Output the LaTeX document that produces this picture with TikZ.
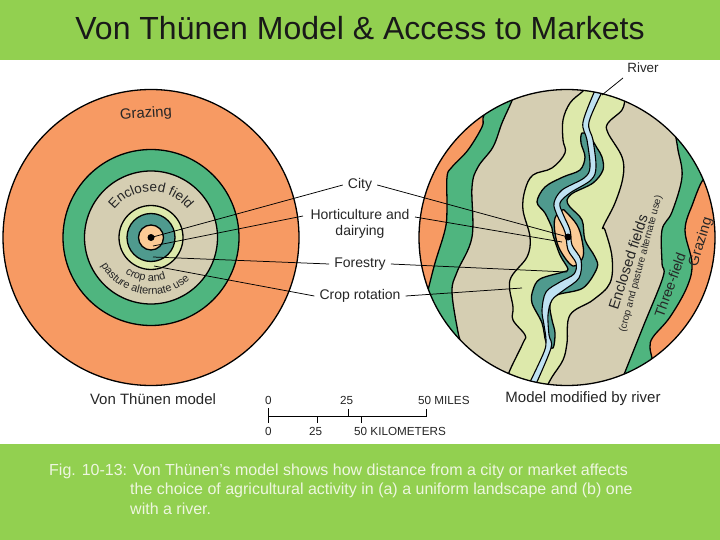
\documentclass[tikz,border=0pt]{standalone}
\usepackage{fontspec}
\setmainfont{Liberation Sans}
\usetikzlibrary{decorations.text}
\definecolor{bandgreen}{HTML}{92D050}
\definecolor{captext}{HTML}{EEF6E0}
\definecolor{zorange}{HTML}{F79A63}
\definecolor{zgreen}{HTML}{4FB57F}
\definecolor{zbeige}{HTML}{D5CEB2}
\definecolor{zlight}{HTML}{DDE9AB}
\definecolor{zteal}{HTML}{4F9A8E}
\definecolor{zpeach}{HTML}{FBCB96}
\definecolor{zriver}{HTML}{BFE2F2}
\newcommand{\fs}[1]{\fontsize{#1}{#1}\selectfont}
\tikzset{
  zone/.style={draw=black,line width=1.3pt,line join=round},
  leader/.style={draw=black,line width=0.75pt},
  lab/.style={font=\fs{14},text=black!85,inner ysep=0pt,inner xsep=5pt,align=center},
  scalebar/.style={draw=black,line width=0.9pt},
  tiny/.style={font=\fs{11.7},text=black!85,inner sep=0pt,anchor=west},
  maptext/.style={inner sep=0pt,text=black!85},
}
\begin{document}
\begin{tikzpicture}[x=1pt,y=-1pt]
\useasboundingbox (0,0) rectangle (720,540);
\fill[white] (0,0) rectangle (720,540);
\fill[bandgreen] (0,0) rectangle (720,60);
\fill[bandgreen] (0,444) rectangle (720,540);
\node[inner sep=0pt,font=\fs{32},text=black!90] (title) at (360,28) {Von Thünen Model \& Access to Markets};
\node[inner sep=0pt,anchor=base west,font=\fs{16},text=captext] (cap1) at (49,475) {Fig. 10-13: Von Thünen’s model shows how distance from a city or market affects};
\node[inner sep=0pt,anchor=base west,font=\fs{16},text=captext] (cap2) at (130,494) {the choice of agricultural activity in (a) a uniform landscape and (b) one};
\node[inner sep=0pt,anchor=base west,font=\fs{16},text=captext] (cap3) at (130,514) {with a river.};

% left circle
\filldraw[zone,fill=zorange] (151,237.5) circle[radius=148];
\filldraw[zone,fill=zgreen] (151,237.5) circle[radius=88];
\filldraw[zone,fill=zbeige] (151,237.5) circle[radius=66.5];
\filldraw[zone,fill=zlight] (151,237.5) circle[radius=32];
\filldraw[zone,fill=zteal] (151,237.5) circle[radius=24];
\filldraw[zone,fill=zpeach] (151,237.5) circle[radius=12.5];
\fill[black] (151,237.5) circle[radius=3.5];

\begin{scope}[x=1pt,y=1pt,shift={(151pt,-237.5pt)}]
\path[postaction={decorate,decoration={text along path,text align=center,
  text={|\fs{13.6}\color{black!85}|Enclosed field}}}] (155:46) arc[start angle=155,end angle=25,radius=46];
\path[postaction={decorate,decoration={text along path,text align=center,
  text={|\fs{11}\color{black!85}|crop and}}}] (222:44) arc[start angle=222,end angle=302,radius=44];
\path[postaction={decorate,decoration={text along path,text align=center,
  text={|\fs{11}\color{black!85}|pasture alternate use}}}] (200:57) arc[start angle=200,end angle=322,radius=57];
\end{scope}
\node[maptext,font=\fs{14.8},rotate=4] (grazeL) at (146,114) {Grazing};

% right circle
\begin{scope}
\clip (567,237.5) circle[radius=148];
\fill[zbeige] (400,70) rectangle (720,400);
% left bands
\filldraw[zone,fill=zgreen] plot[smooth,tension=0.6] coordinates {(516,90) (511,103) (502,123) (493,147) (478,167) (472,187) (472,237) (457,272) (452,292) (458,332) (462,345)} -- (400,345) -- (400,90) -- cycle;
\filldraw[zone,fill=zorange] plot[smooth,tension=0.6] coordinates {(487,108) (483,118) (482,127) (468,150) (452,167) (447,177) (447,210) (445,230) (435,263) (428,290) (425,300)} -- (400,300) -- (400,108) -- cycle;
% right bands
\filldraw[zone,fill=zgreen] plot[smooth,tension=0.6] coordinates {(674,128) (676,138) (678,150) (682,177) (672,212) (662,230) (662,263) (663,277) (643,327) (625,372) (621,382)} -- (720,382) -- (720,128) -- cycle;
\filldraw[zone,fill=zorange] plot[smooth,tension=0.6] coordinates {(716,205) (709,186) (703,180) (693,203) (685,230) (692,263) (687,287) (670,317) (653,337) (650,347) (652,358) (653,365) (720,365)} -- cycle;
% light green
\filldraw[zone,fill=zlight] plot[smooth,tension=0.6] coordinates {(588,86) (582,92) (570,103) (563,120) (563,140) (565,153) (552,168) (533,175) (525,190) (523,210) (530,237) (527,257) (510,280) (513,307) (513,320) (525,335) (523,343) (510,370) (505,385)}
 -- plot[smooth,tension=0.6] coordinates {(544,392) (552,377) (563,360) (567,343) (570,315) (593,300) (610,283) (612,257) (605,230) (603,227) (615,203) (623,177) (622,157) (608,133) (608,123) (622,110) (625,98)} -- cycle;
% teal
\filldraw[zone,fill=zteal] plot[smooth cycle,tension=0.55] coordinates {(582,133) (590,137) (597,148) (602,157) (603,170) (593,183) (573,193) (567,200) (570,207) (582,220) (585,240) (595,257) (597,268) (583,288) (557,295) (550,305) (552,320) (555,333) (553,348) (546,342) (542,323) (532,303) (533,290) (540,279) (563,272) (568,269) (560,255) (553,235) (552,228) (545,213) (537,202) (545,187) (563,177) (580,170) (585,157) (581,143)};
% peach
\filldraw[zone,fill=zpeach] plot[smooth cycle,tension=0.6] coordinates {(562,210) (555,218) (555,233) (560,250) (573,266) (583,257) (582,240) (577,225) (566,212)};
% river
\filldraw[zone,line width=1.1pt,fill=zriver] plot[smooth,tension=0.55] coordinates {(596,88) (583,122) (587,140) (590,167) (584,178) (562,190) (554,203) (557,215) (565,232) (568,250) (576,263) (574,274) (560,282) (546,292) (542,310) (544,325) (546,340) (544,352) (530,382)}
 -- plot[smooth,tension=0.55] coordinates {(536,384) (551,348) (549,335) (548,315) (552,300) (564,290) (579,278) (581,260) (572,245) (570,230) (563,214) (560,203) (570,193) (591,180) (596,167) (593,140) (589,122) (604,88)} -- cycle;
\end{scope}
\draw[black,line width=1.3pt] (567,237.5) circle[radius=148];
\fill[black] (568,237) circle[radius=3.5];

\node[maptext,font=\fs{14.6},rotate=72] (encl) at (628,262) {Enclosed fields};
\node[maptext,font=\fs{9.9},rotate=75] (cropR) at (641,264) {(crop and pasture alternate use)};
\node[maptext,font=\fs{14},rotate=70] (three) at (670,285) {Three-field};
\node[maptext,font=\fs{14.4},rotate=73] (grazeR) at (701,242) {Grazing};

% labels
\node[lab] (city) at (360,185) {City};
\node[lab] (hort) at (360,224) {Horticulture and\\[1.5pt]dairying};
\node[lab] (fore) at (360,264) {Forestry};
\node[lab] (crop) at (360,296) {Crop rotation};
\node[lab,font=\fs{13.4},inner xsep=0pt] (river) at (643,68) {River};

\coordinate (aCity) at (151,237.5);
\coordinate (aHort) at (153,246);
\coordinate (aFore) at (153,257);
\coordinate (aCrop) at (154,266);
\coordinate (bCity) at (568,237);
\coordinate (bHort) at (562,242);
\coordinate (bFore) at (567,272);
\coordinate (bCrop) at (522,288);
\coordinate (hL) at (303,216);
\coordinate (hR) at (415,217);
\coordinate (bRiver) at (602,95);
\coordinate (tRiver) at (623,78);

\draw[leader] (aCity) -- (city.west);
\draw[leader] (city.east) -- (bCity);
\draw[leader] (aHort) -- (hL);
\draw[leader] (hR) -- (bHort);
\draw[leader] (aFore) -- (fore.west);
\draw[leader] (fore.east) -- (bFore);
\draw[leader] (aCrop) -- (crop.west);
\draw[leader] (crop.east) -- (bCrop);
\draw[leader] (tRiver) -- (bRiver);

% captions
\node[maptext,font=\fs{15}] (capL) at (153,399) {Von Thünen model};
\node[maptext,font=\fs{15}] (capR) at (583,399) {Model modified by river};

% scale
\coordinate (s0) at (268,416);
\coordinate (s50) at (426,416);
\coordinate (s0t) at (268,408);
\coordinate (s0b) at (268,423);
\coordinate (m25a) at (348,409);
\coordinate (m25b) at (348,416);
\coordinate (m50t) at (426,409);
\coordinate (k25a) at (317,416);
\coordinate (k25b) at (317,423);
\coordinate (k50a) at (361,416);
\coordinate (k50b) at (361,423);
\draw[scalebar] (s0) -- (s50) -- (m50t);
\draw[scalebar] (s0t) -- (s0b);
\draw[scalebar] (m25a) -- (m25b);
\draw[scalebar] (k25a) -- (k25b);
\draw[scalebar] (k50a) -- (k50b);
\node[tiny] (t0) at (265,400) {0};
\node[tiny] (t25) at (340,400) {25};
\node[tiny] (t50) at (418,400) {50 MILES};
\node[tiny] (b0) at (265,431) {0};
\node[tiny] (b25) at (309,431) {25};
\node[tiny] (b50) at (354,431) {50 KILOMETERS};
\end{tikzpicture}
\end{document}
